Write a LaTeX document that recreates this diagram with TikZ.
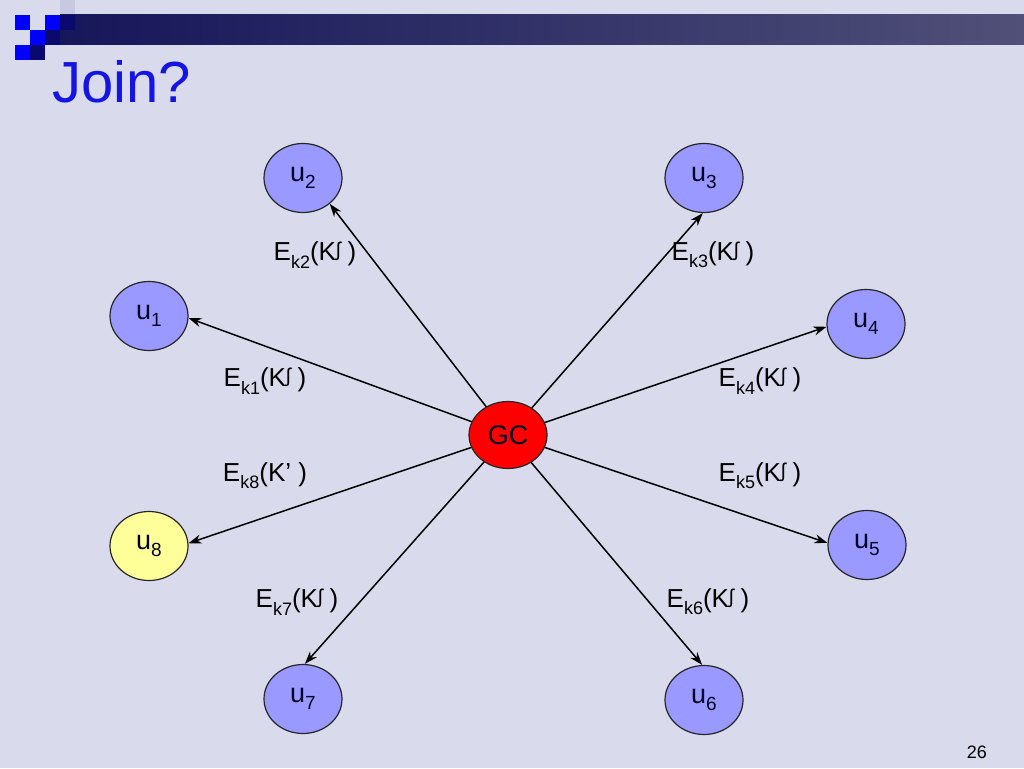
\documentclass[tikz,border=0pt]{standalone}
\usepackage{fontspec}
\setmainfont{Liberation Sans}
\usetikzlibrary{shapes.geometric,arrows.meta}
\definecolor{bg}{RGB}{217,218,236}
\definecolor{nodeblue}{RGB}{153,153,255}
\definecolor{nodeyellow}{RGB}{255,255,153}
\definecolor{titleblue}{RGB}{20,20,230}
\definecolor{barleft}{RGB}{22,22,90}
\definecolor{barright}{RGB}{80,80,120}
\definecolor{checkblue}{RGB}{0,0,255}
\definecolor{checknavy}{RGB}{10,10,110}
\definecolor{paleblock}{RGB}{200,201,224}
\newcommand\sbs[1]{\raisebox{-0.28em}{\fontsize{18}{18}\selectfont #1}}
\newcommand\nsbs[1]{\raisebox{-0.28em}{\fontsize{19}{19}\selectfont #1}}
\newcommand\kk{K\raisebox{0.15em}{\fontsize{20}{20}\selectfont ʃ} )}
\begin{document}
\begin{tikzpicture}[x=1pt,y=1pt,
  unode/.style={ellipse,draw=black!85,line width=1.2pt,fill=nodeblue,
    minimum width=78pt,minimum height=69pt,inner sep=0pt,
    font=\fontsize{27}{27}\selectfont,text=black!85!blue},
  edgelbl/.style={font=\fontsize{26}{26}\selectfont,inner sep=0pt},
  conn/.style={line width=1.5pt,-{Stealth[length=13pt,width=9pt]}}]
\useasboundingbox (0,0) rectangle (1024,-768);
\fill[bg] (0,0) rectangle (1024,-768);
% header decoration
\fill[paleblock] (60,0) rectangle (75,-15);
\shade[left color=barleft,right color=barright] (60,-15) rectangle (1024,-45);
\fill[checkblue] (15,-15) rectangle (30,-30);
\fill[checkblue] (45,-15) rectangle (60,-30);
\fill[checkblue] (30,-30) rectangle (45,-45);
\fill[checkblue] (15,-45) rectangle (30,-60);
\fill[checknavy] (60,-15) rectangle (75,-30);
\fill[checknavy] (45,-30) rectangle (60,-45);
\fill[checknavy] (30,-45) rectangle (45,-60);
\node[anchor=base west,inner sep=0pt,text=titleblue,font=\fontsize{58}{58}\selectfont] (title) at (52,-102) {Join?};
\node[anchor=base east,inner sep=0pt,font=\fontsize{18}{18}\selectfont] (pg) at (987,-758) {26};
% nodes
\node[unode] (u1) at (149,-316) {u\nsbs{1}};
\node[unode] (u2) at (303,-178) {u\nsbs{2}};
\node[unode] (u3) at (704,-178) {u\nsbs{3}};
\node[unode] (u4) at (866,-324) {u\nsbs{4}};
\node[unode] (u5) at (867,-545) {u\nsbs{5}};
\node[unode] (u6) at (704,-700) {u\nsbs{6}};
\node[unode] (u7) at (303,-699) {u\nsbs{7}};
\node[unode,fill=nodeyellow] (u8) at (149,-546) {u\nsbs{8}};
\coordinate (gcc) at (508,-435);
% connectors
\draw[conn] (gcc) -- (u1.-3);
\draw[conn] (gcc) -- (u2.-44);
\draw[conn] (gcc) -- (u3.-92);
\draw[conn] (gcc) -- (u4.184);
\draw[conn] (gcc) -- (u5.177);
\draw[conn] (gcc) -- (u6.93);
\draw[conn] (gcc) -- (u7.87);
\draw[conn] (gcc) -- (u8.4);
\node[unode,fill=red,minimum width=78pt,minimum height=67pt] (GC) at (gcc) {GC};
% labels
\node[edgelbl] (l2) at (315,-255) {E\sbs{k2}(\kk};
\node[edgelbl] (l3) at (713,-255) {E\sbs{k3}(\kk};
\node[edgelbl] (l1) at (265,-381) {E\sbs{k1}(\kk};
\node[edgelbl] (l4) at (760,-381) {E\sbs{k4}(\kk};
\node[edgelbl] (l8) at (265,-476) {E\sbs{k8}(K’ )};
\node[edgelbl] (l5) at (760,-476) {E\sbs{k5}(\kk};
\node[edgelbl] (l7) at (297,-602) {E\sbs{k7}(\kk};
\node[edgelbl] (l6) at (708,-602) {E\sbs{k6}(\kk};
\end{tikzpicture}
\end{document}
